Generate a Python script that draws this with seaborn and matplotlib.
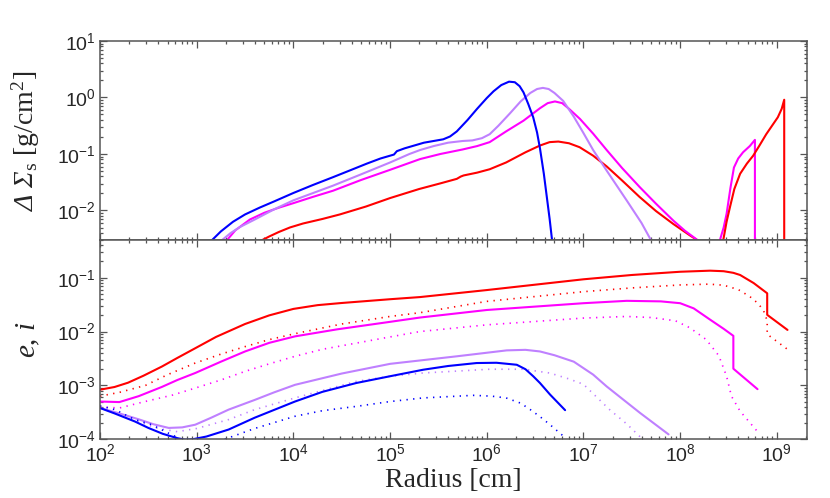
import numpy as np
import matplotlib
matplotlib.use("Agg")
import matplotlib.pyplot as plt
import seaborn as sns

# values, stored as log10(radius) and log10(value)

# upper panel: surface density change
top_blue_lx = [3.05, 3.155, 3.25, 3.375, 3.5, 3.65, 3.8, 4.0, 4.2, 4.41, 4.6, 4.76, 4.9, 5.0, 5.04, 5.07, 5.15, 5.25, 5.35, 5.45, 5.55, 5.62, 5.69, 5.8, 5.9, 6.0, 6.07, 6.15, 6.23, 6.29, 6.34, 6.38, 6.43, 6.48, 6.52, 6.55, 6.59, 6.62, 6.65, 6.68, 6.7]
top_blue_ly = [-2.8, -2.53, -2.37, -2.2, -2.07, -1.95, -1.84, -1.69, -1.55, -1.41, -1.28, -1.17, -1.08, -1.03, -1.01, -0.95, -0.9, -0.85, -0.8, -0.77, -0.74, -0.69, -0.6, -0.4, -0.2, -0.01, 0.11, 0.22, 0.28, 0.27, 0.2, 0.09, -0.12, -0.35, -0.62, -0.9, -1.35, -1.75, -2.15, -2.6, -2.9]

top_lav_lx = [3.15, 3.258, 3.35, 3.45, 3.6, 3.8, 4.0, 4.41, 4.7, 5.0, 5.2, 5.31, 5.45, 5.6, 5.75, 5.85, 5.95, 6.03, 6.12, 6.24, 6.35, 6.45, 6.52, 6.58, 6.64, 6.7, 6.79, 6.9, 7.0, 7.1, 7.25, 7.45, 7.6, 7.69, 7.75]
top_lav_ly = [-2.8, -2.53, -2.4, -2.29, -2.16, -1.98, -1.82, -1.56, -1.36, -1.15, -1.0, -0.93, -0.86, -0.8, -0.77, -0.76, -0.72, -0.65, -0.5, -0.28, -0.07, 0.08, 0.15, 0.17, 0.15, 0.08, -0.06, -0.34, -0.63, -0.93, -1.32, -1.83, -2.22, -2.5, -2.7]

top_mag_lx = [3.25, 3.31, 3.4, 3.55, 3.7, 3.85, 4.0, 4.2, 4.41, 4.7, 5.0, 5.31, 5.52, 5.75, 5.9, 6.03, 6.2, 6.38, 6.55, 6.63, 6.705, 6.78, 6.85, 6.964, 7.1, 7.24, 7.4, 7.584, 7.75, 7.93, 8.05, 8.2, 8.3]
top_mag_ly = [-2.75, -2.53, -2.35, -2.16, -2.04, -1.95, -1.87, -1.76, -1.65, -1.46, -1.28, -1.09, -1.0, -0.92, -0.86, -0.79, -0.6, -0.41, -0.19, -0.1, -0.07, -0.1, -0.2, -0.38, -0.64, -0.93, -1.25, -1.59, -1.88, -2.18, -2.36, -2.55, -2.65]

top_red_lx = [3.6, 3.67, 3.75, 3.85, 3.965, 4.1, 4.3, 4.48, 4.75, 5.0, 5.3, 5.52, 5.69, 5.73, 5.76, 5.9, 6.03, 6.2, 6.4, 6.55, 6.65, 6.74, 6.85, 6.96, 7.1, 7.24, 7.4, 7.58, 7.75, 7.93, 8.1, 8.2, 8.3]
top_red_ly = [-2.7, -2.53, -2.46, -2.38, -2.3, -2.23, -2.15, -2.07, -1.93, -1.78, -1.62, -1.52, -1.44, -1.4, -1.38, -1.33, -1.27, -1.15, -0.97, -0.85, -0.79, -0.78, -0.81, -0.88, -1.03, -1.22, -1.47, -1.76, -2.01, -2.24, -2.44, -2.55, -2.65]

top_mag_outer_lx = [8.38, 8.41, 8.45, 8.48, 8.52, 8.556, 8.6, 8.65, 8.72, 8.773, 8.773]
top_mag_outer_ly = [-2.8, -2.53, -2.3, -2.06, -1.6, -1.24, -1.08, -0.97, -0.86, -0.75, -3.0]

top_red_outer_lx = [8.42, 8.445, 8.48, 8.515, 8.56, 8.62, 8.69, 8.755, 8.82, 8.89, 8.95, 9.01, 9.05, 9.076, 9.076]
top_red_outer_ly = [-2.8, -2.53, -2.2, -1.94, -1.62, -1.35, -1.17, -1.03, -0.85, -0.65, -0.5, -0.35, -0.2, -0.04, -3.0]

# lower panel: eccentricity (solid) and inclination (dotted)
ecc_red_lx = [2.0, 2.15, 2.29, 2.45, 2.64, 2.8, 2.985, 3.2, 3.5, 3.75, 4.0, 4.25, 4.5, 5.0, 5.31, 6.0, 7.0, 7.5, 8.0, 8.31, 8.45, 8.55, 8.62, 8.76, 8.9, 8.9, 9.11]
ecc_red_ly = [-3.08, -3.03, -2.95, -2.82, -2.65, -2.49, -2.31, -2.1, -1.86, -1.7, -1.58, -1.51, -1.47, -1.4, -1.36, -1.23, -1.03, -0.95, -0.89, -0.87, -0.88, -0.91, -0.95, -1.1, -1.29, -1.69, -1.97]
inc_red_lx = [2.0, 2.2, 2.47, 2.7, 2.985, 3.25, 3.5, 3.75, 4.016, 4.5, 5.0, 5.31, 6.0, 7.0, 7.5, 8.0, 8.3, 8.45, 8.6, 8.72, 8.8, 8.86, 8.9, 8.9, 9.117]
inc_red_ly = [-3.2, -3.13, -3.0, -2.8, -2.585, -2.42, -2.28, -2.15, -2.04, -1.86, -1.72, -1.65, -1.44, -1.26, -1.19, -1.135, -1.12, -1.14, -1.22, -1.35, -1.47, -1.6, -1.8, -2.05, -2.34]

ecc_mag_lx = [2.0, 2.2, 2.4, 2.638, 2.8, 2.985, 3.25, 3.5, 3.75, 4.016, 4.45, 5.0, 5.31, 6.0, 7.0, 7.446, 7.8, 8.0, 8.14, 8.31, 8.45, 8.55, 8.55, 8.8]
ecc_mag_ly = [-3.3, -3.31, -3.2, -3.03, -2.9, -2.77, -2.56, -2.37, -2.21, -2.09, -1.96, -1.82, -1.74, -1.6, -1.474, -1.43, -1.44, -1.474, -1.57, -1.78, -1.95, -2.08, -2.69, -3.07]
inc_mag_lx = [2.0, 2.2, 2.465, 2.75, 2.985, 3.25, 3.5, 3.75, 4.016, 4.3, 4.65, 5.0, 5.31, 6.0, 7.0, 7.446, 7.7, 7.95, 8.1, 8.27, 8.4, 8.48, 8.53, 8.62, 8.81]
inc_mag_ly = [-3.4, -3.42, -3.3, -3.18, -3.05, -2.9, -2.74, -2.6, -2.46, -2.33, -2.215, -2.1, -2.0, -1.876, -1.75, -1.72, -1.74, -1.8, -1.93, -2.15, -2.45, -2.83, -3.2, -3.48, -3.88]

ecc_lav_lx = [2.0, 2.2, 2.4, 2.55, 2.71, 2.85, 2.985, 3.15, 3.33, 3.6, 3.8, 4.016, 4.5, 5.0, 5.69, 6.206, 6.4, 6.55, 6.7, 6.9, 7.1, 7.24, 7.584, 7.88]
ecc_lav_ly = [-3.42, -3.52, -3.63, -3.72, -3.79, -3.78, -3.73, -3.6, -3.45, -3.27, -3.13, -2.99, -2.78, -2.6, -2.46, -2.35, -2.34, -2.37, -2.44, -2.56, -2.8, -3.02, -3.51, -3.91]
inc_lav_lx = [2.0, 2.2, 2.4, 2.6, 2.8, 3.0, 3.33, 3.6, 4.016, 4.65, 5.0, 5.34, 6.03, 6.38, 6.65, 6.85, 7.0, 7.27, 7.45, 7.6]
inc_lav_ly = [-3.4, -3.55, -3.68, -3.8, -3.86, -3.8, -3.635, -3.45, -3.233, -2.926, -2.83, -2.77, -2.7, -2.7, -2.77, -2.88, -2.98, -3.45, -3.72, -3.98]

ecc_blue_lx = [2.0, 2.15, 2.36, 2.5, 2.65, 2.8, 2.88, 2.96, 3.1, 3.33, 3.6, 4.016, 4.3, 4.65, 5.0, 5.34, 5.6, 5.895, 6.1, 6.31, 6.4, 6.48, 6.55, 6.654, 6.81]
ecc_blue_ly = [-3.42, -3.52, -3.67, -3.79, -3.9, -3.98, -4.01, -4.0, -3.95, -3.82, -3.6, -3.3, -3.12, -2.956, -2.83, -2.71, -2.64, -2.585, -2.58, -2.617, -2.7, -2.83, -2.956, -3.17, -3.46]
inc_blue_lx = [2.0, 2.155, 2.36, 2.535, 2.7, 2.84, 3.0, 3.15, 3.29, 3.6, 4.016, 4.3, 4.65, 5.0, 5.34, 5.86, 6.05, 6.2, 6.35, 6.45, 6.55, 6.654, 6.81]
inc_blue_ly = [-3.38, -3.45, -3.635, -3.73, -3.88, -4.0, -4.1, -4.08, -4.0, -3.8, -3.574, -3.47, -3.39, -3.3, -3.233, -3.185, -3.2, -3.233, -3.33, -3.45, -3.58, -3.73, -3.97]

BLUE = "#0000ff"
LAV = "#bf80ff"
MAG = "#ff00ff"
RED = "#ff0000"
FRAME = "#555555"


def draw(ax, lx, ly, color, dotted=False):
    if dotted:
        sns.lineplot(x=10 ** np.array(lx), y=10 ** np.array(ly), ax=ax, color=color,
                     lw=1.2, linestyle=(0, (0.8, 3.2)), estimator=None, sort=False, legend=False)
    else:
        sns.lineplot(x=10 ** np.array(lx), y=10 ** np.array(ly), ax=ax, color=color,
                     lw=1.5, estimator=None, sort=False, legend=False)


def style_axes(ax):
    ax.set_xscale("log")
    ax.set_yscale("log")
    ax.set_xlim(1e2, 2.05e9)
    ax.tick_params(which="both", direction="in", top=True, right=True,
                   color=FRAME, width=0.9, labelsize=14, pad=3)
    ax.tick_params(which="major", length=5)
    ax.tick_params(which="minor", length=2.5)
    for sp in ax.spines.values():
        sp.set_color(FRAME)
        sp.set_linewidth(1.1)
    ax.set_xlabel("")
    ax.set_ylabel("")


sns.set_style("ticks")
plt.rcParams["font.family"] = ["Liberation Sans", "DejaVu Sans"]
plt.rcParams["mathtext.fontset"] = "custom"
plt.rcParams["mathtext.rm"] = "Liberation Serif:italic"
plt.rcParams["mathtext.it"] = "Liberation Serif:italic"
plt.rcParams["axes.unicode_minus"] = False

fig = plt.figure(figsize=(8.3, 4.98), dpi=100)
ax1 = fig.add_axes([0.1205, 0.518, 0.8518, 0.3997])
ax2 = fig.add_axes([0.1205, 0.118, 0.8518, 0.400])

draw(ax1, top_red_lx, top_red_ly, RED)
draw(ax1, top_mag_lx, top_mag_ly, MAG)
draw(ax1, top_lav_lx, top_lav_ly, LAV)
draw(ax1, top_blue_lx, top_blue_ly, BLUE)
draw(ax1, top_mag_outer_lx, top_mag_outer_ly, MAG)
draw(ax1, top_red_outer_lx, top_red_outer_ly, RED)

draw(ax2, ecc_red_lx, ecc_red_ly, RED)
draw(ax2, inc_red_lx, inc_red_ly, RED, dotted=True)
draw(ax2, ecc_mag_lx, ecc_mag_ly, MAG)
draw(ax2, inc_mag_lx, inc_mag_ly, MAG, dotted=True)
draw(ax2, ecc_lav_lx, ecc_lav_ly, LAV)
draw(ax2, inc_lav_lx, inc_lav_ly, LAV, dotted=True)
draw(ax2, ecc_blue_lx, ecc_blue_ly, BLUE)
draw(ax2, inc_blue_lx, inc_blue_ly, BLUE, dotted=True)

style_axes(ax1)
style_axes(ax2)
ax1.set_ylim(3e-3, 10)
ax2.set_ylim(1e-4, 0.5)
ax1.tick_params(labelbottom=False)

ax1.set_ylabel(r"$\Delta\ \Sigma_\mathregular{s}$ [g/cm$^\mathregular{2}$]",
               family=["Liberation Serif"], fontsize=20)
ax1.yaxis.set_label_coords(-0.082, 0.5)
ax2.set_ylabel(r"$e$, $i$", family=["Liberation Serif"], fontsize=21)
ax2.yaxis.set_label_coords(-0.082, 0.5)
ax2.set_xlabel("Radius [cm]", family=["Liberation Serif"], fontsize=20)
ax2.xaxis.set_label_coords(0.5, -0.145)

fig.savefig("out.png", dpi=100)
